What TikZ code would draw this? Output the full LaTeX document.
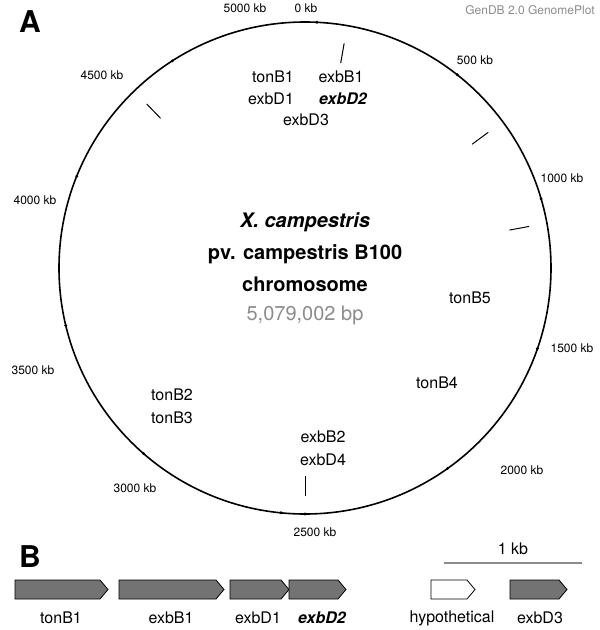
\documentclass[tikz,border=0pt]{standalone}
\usepackage{fontspec}
\setmainfont{TeX Gyre Heros}
\usetikzlibrary{calc}
\begin{document}
\begin{tikzpicture}[x=1pt,y=-1pt,
  tl/.style={font=\fontsize{12}{12}\selectfont},
  gl/.style={font=\fontsize{16}{18}\selectfont},
  ml/.style={font=\fontsize{20}{23}\selectfont\bfseries},
  gene/.style={draw=black,line width=0.8pt,fill=black!55},
  gmark/.style={line width=1pt}]
\useasboundingbox (0,0) rectangle (600,630);
\coordinate (C) at (305,268);
\def\R{246}
\draw[line width=1.6pt] (C) circle[radius=\R];
\foreach \k in {0,500,...,5000}{
  \pgfmathsetmacro\a{90-\k/5079.002*360}
  \fill ($(C)+(\a:{\R})$) circle[radius=1.6];
}
\node[font=\fontsize{30}{30}\selectfont\bfseries] (A) at (30,22) {A};
\node[font=\fontsize{12}{12}\selectfont,text=black!45] (t) at (530,10) {GenDB 2.0 GenomePlot};
\node[tl] (k0) at (306,8) {0 kb};
\node[tl] (k500) at (475,60) {500 kb};
\node[tl] (k1000) at (562,178) {1000 kb};
\node[tl] (k1500) at (572,348) {1500 kb};
\node[tl] (k2000) at (522,470) {2000 kb};
\node[tl] (k2500) at (315,532) {2500 kb};
\node[tl] (k3000) at (135,488) {3000 kb};
\node[tl] (k3500) at (33,370) {3500 kb};
\node[tl] (k4000) at (35,200) {4000 kb};
\node[tl] (k4500) at (102,75) {4500 kb};
\node[tl] (k5000) at (245,8) {5000 kb};
\node[ml] (c1) at (305,222) {\itshape X. campestris};
\node[ml] (c2) at (305,254) {pv. campestris B100};
\node[ml] (c3) at (305,284) {chromosome};
\node[font=\fontsize{20}{23}\selectfont,text=black!45] (c4) at (305,315) {5,079,002 bp};
% markers
\foreach \k/\n in {0/m1,1418/m2,1785/m3,2400/m4,3160/m5}{
  \pgfmathsetmacro\a{90-\k/5079.002*360}
  \coordinate (\n a) at ($(C)+(\a:208)$);
  \coordinate (\n b) at ($(C)+(\a:228)$);
  \draw[gmark] (\n a) -- (\n b);
}
\node[gl] (g1) at (273,77) {tonB1};
\node[gl] (g2) at (341,77) {exbB1};
\node[gl] (g3) at (271,99) {exbD1};
\node[gl] (g4) at (343,99) {\bfseries\itshape exbD2};
\node[gl] (g5) at (306,120) {exbD3};
\node[gl] (g6) at (470,298) {tonB5};
\node[gl] (g7) at (437,383) {tonB4};
\node[gl] (g8) at (323,437) {exbB2};
\node[gl] (g9) at (323,460) {exbD4};
\node[gl] (g10) at (172,395) {tonB2};
\node[gl] (g11) at (172,418) {tonB3};
% panel B
\node[font=\fontsize{30}{30}\selectfont\bfseries] (B) at (30,557) {B};
\coordinate (s1) at (444,563); \coordinate (s2) at (582,563);
\draw[line width=2.5pt,black!45] (s1) -- (s2);
\node[gl] (kb) at (513,549) {1 kb};
\foreach \x/\y/\n/\f in {15/108/tonB1/black!55,119/224/exbB1/black!55,230/289/exbD1/black!55,289/346/exbD2/black!55,431/475/hyp/white,510/567/exbD3/black!55}{
  \draw[gene,fill=\f] (\x,580) -- (\y-8,580) -- (\y,589.5) -- (\y-8,599) -- (\x,599) -- cycle;
}
\node[gl] (l1) at (61,618) {tonB1};
\node[gl] (l2) at (171,618) {exbB1};
\node[gl] (l3) at (258,618) {exbD1};
\node[gl] (l4) at (322,618) {\bfseries\itshape exbD2};
\node[gl] (l5) at (452,618) {hypothetical};
\node[gl] (l6) at (540,618) {exbD3};
\end{tikzpicture}
\end{document}
